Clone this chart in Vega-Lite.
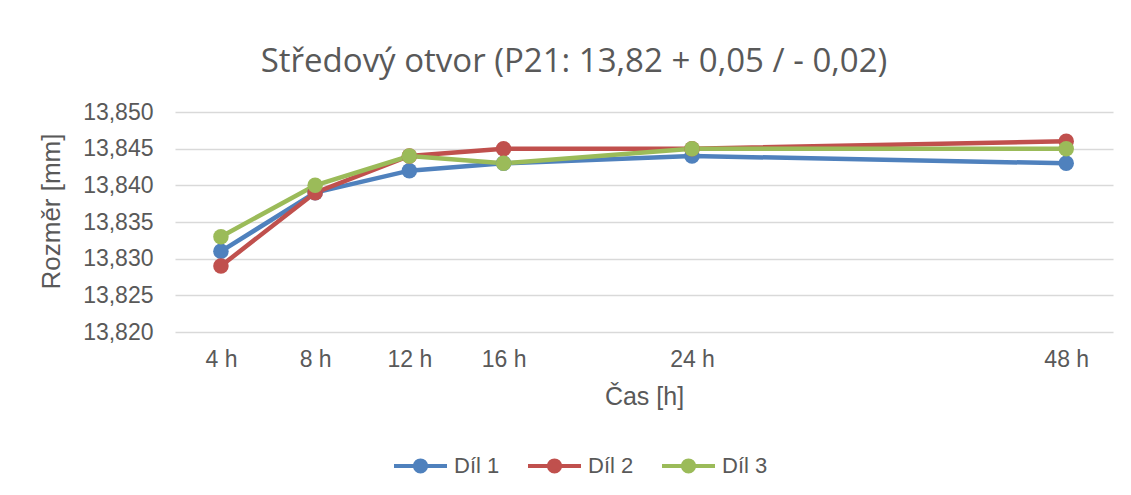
{
  "$schema": "https://vega.github.io/schema/vega-lite/v6.json",
  "autosize": "none",
  "width": 938,
  "height": 220,
  "padding": {"left": 175, "top": 112, "right": 18, "bottom": 163},
  "background": "white",
  "title": {
    "text": "Středový otvor (P21: 13,82 + 0,05 / - 0,02)",
    "font": "Open Sans",
    "fontSize": 33,
    "fontWeight": "normal",
    "color": "#595959",
    "anchor": "middle",
    "dx": -70,
    "offset": 22
  },
  "data": {
    "values": [
      {"h": 4, "part": "Díl 1", "v": 13.831},
      {"h": 8, "part": "Díl 1", "v": 13.839},
      {"h": 12, "part": "Díl 1", "v": 13.842},
      {"h": 16, "part": "Díl 1", "v": 13.843},
      {"h": 24, "part": "Díl 1", "v": 13.844},
      {"h": 48, "part": "Díl 1", "v": 13.843},
      {"h": 4, "part": "Díl 2", "v": 13.829},
      {"h": 8, "part": "Díl 2", "v": 13.839},
      {"h": 12, "part": "Díl 2", "v": 13.844},
      {"h": 16, "part": "Díl 2", "v": 13.845},
      {"h": 24, "part": "Díl 2", "v": 13.845},
      {"h": 48, "part": "Díl 2", "v": 13.846},
      {"h": 4, "part": "Díl 3", "v": 13.833},
      {"h": 8, "part": "Díl 3", "v": 13.840},
      {"h": 12, "part": "Díl 3", "v": 13.844},
      {"h": 16, "part": "Díl 3", "v": 13.843},
      {"h": 24, "part": "Díl 3", "v": 13.845},
      {"h": 48, "part": "Díl 3", "v": 13.845}
    ]
  },
  "mark": {
    "type": "line",
    "strokeWidth": 4.5,
    "point": {"filled": true, "size": 240, "opacity": 1}
  },
  "encoding": {
    "x": {
      "field": "h",
      "type": "quantitative",
      "scale": {"domain": [2.05, 24, 51], "range": [0, 517, 938], "zero": false, "nice": false},
      "axis": {
        "values": [4, 8, 12, 16, 24, 48],
        "labelExpr": "datum.value + ' h'",
        "grid": false,
        "domain": false,
        "ticks": false,
        "labelPadding": 16,
        "labelFont": "Liberation Sans",
        "labelFontSize": 23,
        "labelColor": "#595959",
        "title": "Čas [h]",
        "titleFont": "Liberation Sans",
        "titleFontSize": 25,
        "titleFontWeight": "normal",
        "titleColor": "#595959",
        "titlePadding": 13
      }
    },
    "y": {
      "field": "v",
      "type": "quantitative",
      "scale": {"domain": [13.82, 13.85], "zero": false, "nice": false},
      "axis": {
        "values": [13.82, 13.825, 13.83, 13.835, 13.84, 13.845, 13.85],
        "labelExpr": "replace(format(datum.value, '.3f'), '.', ',')",
        "grid": true,
        "gridColor": "#d9d9d9",
        "gridWidth": 1.5,
        "domain": false,
        "ticks": false,
        "labelPadding": 22,
        "labelFont": "Liberation Sans",
        "labelFontSize": 23,
        "labelColor": "#595959",
        "title": "Rozměr [mm]",
        "titleFont": "Liberation Sans",
        "titleFontSize": 26,
        "titleFontWeight": "normal",
        "titleColor": "#595959",
        "titlePadding": 18,
        "titleY": 99
      }
    },
    "color": {
      "field": "part",
      "type": "nominal",
      "scale": {"domain": ["Díl 1", "Díl 2", "Díl 3"], "range": ["#4F81BD", "#C0504D", "#9BBB59"]},
      "legend": {
        "title": null,
        "orient": "none",
        "direction": "horizontal",
        "legendX": 217,
        "legendY": 325,
        "symbolType": "M-1,0L1,0M0.21,0A0.21,0.21,0,1,1,-0.21,0A0.21,0.21,0,1,1,0.21,0",
        "symbolSize": 2809,
        "symbolStrokeWidth": 4,
        "labelFont": "Liberation Sans",
        "labelFontSize": 22,
        "labelColor": "#595959",
        "labelOffset": 5,
        "columnPadding": 20,
        "encode": {
          "symbols": {
            "update": {
              "fill": {"scale": "color", "field": "value"},
              "stroke": {"scale": "color", "field": "value"},
              "opacity": {"value": 1}
            }
          }
        }
      }
    }
  },
  "config": {"view": {"stroke": null}}
}
